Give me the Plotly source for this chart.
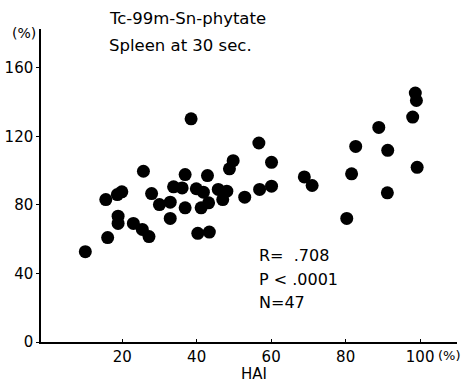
import plotly.graph_objects as go

# HAI (%) values
hai = [10.1, 16.1, 15.6, 18.7, 19.9, 18.9, 18.9, 23.0, 25.4, 27.2,
       25.7, 27.9, 30.0, 32.9, 32.9, 33.8, 36.1, 36.9, 36.9, 38.5,
       39.9, 41.8, 41.2, 43.2, 42.9, 40.3, 43.4, 45.8, 48.1, 47.0,
       48.8, 49.8, 52.9, 56.7, 56.9, 60.1, 60.1, 68.9, 71.0, 80.3,
       81.6, 82.7, 88.9, 91.2, 91.3, 98.0, 98.7, 99.0, 99.2]
# Spleen uptake at 30 sec (%)
spleen = [52.7, 60.9, 83.1, 86.0, 87.6, 73.4, 69.2, 69.2, 65.7, 61.5,
          99.6, 86.6, 80.2, 81.6, 72.1, 90.5, 89.9, 97.7, 78.3, 130.2,
          89.4, 87.4, 78.3, 81.2, 97.1, 63.4, 64.1, 89.0, 88.0, 83.1,
          101.0, 105.8, 84.5, 116.1, 89.0, 104.8, 90.9, 96.3, 91.3, 72.1,
          98.1, 114.1, 125.2, 87.0, 111.8, 131.2, 145.2, 140.9, 101.9]

x_ticks = [20, 40, 60, 80, 100]
x_ticktext = ["20", "40", "60", "80", "100"]
y_ticks = [0, 40, 80, 120, 160]
y_ticktext = ["0", "40", "80", "120", "160"]

title_lines = ["Tc-99m-Sn-phytate", "Spleen at 30 sec."]
stats_lines = ["R=  .708", "P < .0001", "N=47"]

FONT = "DejaVu Sans"

fig = go.Figure()
fig.add_trace(go.Scatter(
    x=hai, y=spleen, mode="markers",
    marker=dict(color="black", size=13, line=dict(width=0)),
    showlegend=False, cliponaxis=False,
))

fig.update_layout(
    width=462, height=384,
    margin=dict(l=38, r=5, t=29, b=42),
    paper_bgcolor="white", plot_bgcolor="white",
    font=dict(family=FONT, color="black", size=15),
    xaxis=dict(range=[-1.8, 109.9], showgrid=False, zeroline=False,
               showline=True, linecolor="black", linewidth=1.5,
               tickvals=x_ticks, ticktext=x_ticktext,
               ticks="inside", ticklen=3, tickcolor="black",
               tickfont=dict(size=15, family=FONT)),
    yaxis=dict(range=[0, 182.6], showgrid=False, zeroline=False,
               showline=True, linecolor="black", linewidth=1.5,
               tickvals=y_ticks, ticktext=y_ticktext,
               ticks="outside", ticklen=3, tickcolor="black",
               tickfont=dict(size=15, family=FONT)),
)

ann = []
ann.append(dict(text=title_lines[0], xref="paper", yref="paper",
                x=(104 - 38) / 419, y=(342 - 18) / 313, xanchor="left", yanchor="middle",
                showarrow=False, font=dict(size=16.5, family=FONT)))
ann.append(dict(text=title_lines[1], xref="paper", yref="paper",
                x=(104 - 38) / 419, y=(342 - 45) / 313, xanchor="left", yanchor="middle",
                showarrow=False, font=dict(size=16.5, family=FONT)))
for i, (t, py) in enumerate(zip(stats_lines, [255, 279, 302])):
    ann.append(dict(text=t, xref="paper", yref="paper",
                    x=(256 - 38) / 419, y=(342 - py) / 313, xanchor="left", yanchor="middle",
                    showarrow=False, font=dict(size=16, family=FONT)))
ann.append(dict(text="(%)", xref="paper", yref="paper",
                x=(21 - 38) / 419, y=(342 - 33) / 313, xanchor="center", yanchor="middle",
                showarrow=False, font=dict(size=14, family=FONT)))
ann.append(dict(text="(%)", xref="paper", yref="paper",
                x=(436 - 38) / 419, y=(342 - 355) / 313, xanchor="left", yanchor="middle",
                showarrow=False, font=dict(size=13, family=FONT)))
ann.append(dict(text="HAI", xref="paper", yref="paper",
                x=(253 - 38) / 419, y=(342 - 374) / 313, xanchor="center", yanchor="middle",
                showarrow=False, font=dict(size=15, family=FONT)))
fig.update_layout(annotations=ann)

fig.write_html("out.html")
